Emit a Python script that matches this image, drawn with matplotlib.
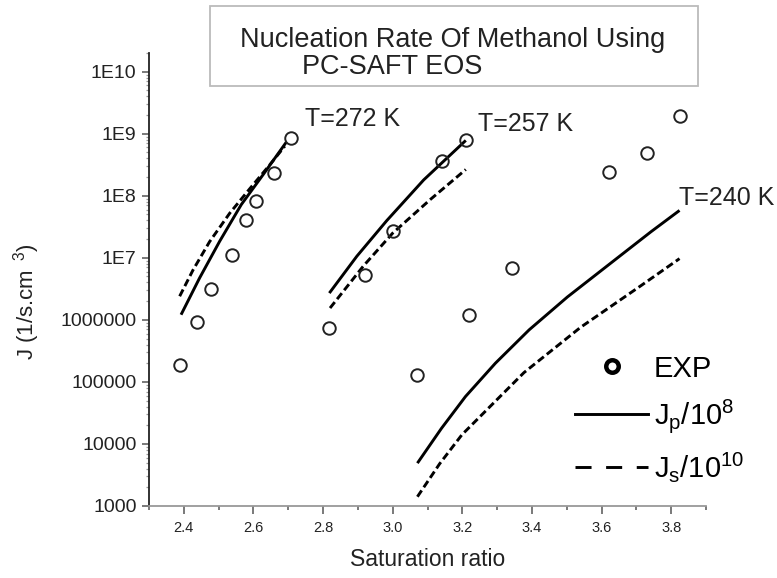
import matplotlib
matplotlib.use("Agg")
import matplotlib.pyplot as plt
from matplotlib.lines import Line2D
from matplotlib.patches import Rectangle
from matplotlib.ticker import FixedLocator, LogLocator, NullFormatter

plt.rcParams['font.family'] = ['Liberation Sans', 'DejaVu Sans']
plt.rcParams['mathtext.fontset'] = 'custom'
plt.rcParams['mathtext.rm'] = 'Liberation Sans'
plt.rcParams['mathtext.it'] = 'Liberation Sans'

# experimental points (saturation ratio, J)
exp_s = [2.388, 2.439, 2.477, 2.538, 2.579, 2.607, 2.659, 2.709,
         2.818, 2.920, 3.000, 3.142, 3.210,
         3.071, 3.220, 3.342, 3.622, 3.731, 3.824]
exp_j = [1.9e5, 9.4e5, 3.1e6, 1.1e7, 4.0e7, 8.2e7, 2.3e8, 8.6e8,
         7.5e5, 5.3e6, 2.7e7, 3.7e8, 7.8e8,
         1.3e5, 1.2e6, 6.9e6, 2.4e8, 4.8e8, 1.9e9]

# T = 272 K
s272_p = [2.392, 2.445, 2.503, 2.565, 2.628, 2.695]
j272_p = [1.21e6, 4.7e6, 1.85e7, 7.2e7, 2.2e8, 7.4e8]
s272_s = [2.388, 2.426, 2.474, 2.532, 2.589, 2.647, 2.690]
j272_s = [2.4e6, 6.3e6, 1.82e7, 5.25e7, 1.29e8, 3.16e8, 6.3e8]

# T = 257 K
s257_p = [2.818, 2.897, 2.983, 3.089, 3.210]
j257_p = [2.7e6, 1.06e7, 3.98e7, 1.8e8, 7.8e8]
s257_s = [2.820, 2.916, 3.000, 3.108, 3.210]
j257_s = [1.55e6, 7.4e6, 2.5e7, 8.7e7, 2.65e8]

# T = 240 K
s240_p = [3.071, 3.140, 3.209, 3.295, 3.392, 3.502, 3.646, 3.742, 3.824]
j240_p = [4.9e3, 1.78e4, 5.8e4, 2.0e5, 6.9e5, 2.34e6, 1.0e7, 2.63e7, 5.8e7]
s240_s = [3.071, 3.135, 3.199, 3.377, 3.540, 3.713, 3.824]
j240_s = [1.41e3, 4.8e3, 1.41e4, 1.41e5, 7.6e5, 3.55e6, 9.7e6]

ytick_vals = [1e3, 1e4, 1e5, 1e6, 1e7, 1e8, 1e9, 1e10]
ytick_labels = ['1000', '10000', '100000', '1000000', '1E7', '1E8', '1E9', '1E10']
xtick_vals = [2.4, 2.6, 2.8, 3.0, 3.2, 3.4, 3.6, 3.8]
xminor_vals = [2.3, 2.5, 2.7, 2.9, 3.1, 3.3, 3.5, 3.7, 3.9]

fig = plt.figure(figsize=(7.77, 5.78), dpi=100)
ax = fig.add_axes([0.1918, 0.1246, 0.7168, 0.7837])

lw = 2.1
dash = (2.6, 1.3)
for s, j in [(s272_p, j272_p), (s257_p, j257_p), (s240_p, j240_p)]:
    ax.plot(s, j, color='black', lw=lw, solid_capstyle='butt')
for s, j in [(s272_s, j272_s), (s257_s, j257_s), (s240_s, j240_s)]:
    ax.plot(s, j, color='black', lw=lw, dashes=dash)
ax.plot(exp_s, exp_j, ls='none', marker='o', ms=9, mfc='none', mec='#222222', mew=1.4)

ax.set_yscale('log')
ax.set_xlim(2.3, 3.9)
ax.set_ylim(1e3, 2e10)
ax.set_yticks(ytick_vals)
ax.set_yticklabels(ytick_labels)
ax.yaxis.set_minor_locator(LogLocator(base=10, subs=range(2, 10), numticks=20))
ax.yaxis.set_minor_formatter(NullFormatter())
ax.set_xticks(xtick_vals)
ax.set_xticklabels(['%.1f' % v for v in xtick_vals])
ax.xaxis.set_minor_locator(FixedLocator(xminor_vals))

for side in ['top', 'right']:
    ax.spines[side].set_visible(False)
ax.spines['left'].set_color('#222222')
ax.spines['left'].set_linewidth(1.3)
ax.spines['bottom'].set_color('#999999')
ax.spines['bottom'].set_linewidth(1.3)

ax.tick_params(axis='y', which='major', length=5, width=1.1, color='#555555', labelsize=14, pad=4, labelcolor='#222222')
ax.tick_params(axis='y', which='minor', length=2.5, width=0.9, color='#999999')
ax.tick_params(axis='x', which='major', length=6, width=1.1, color='#555555', labelsize=10.5, pad=5, labelcolor='#222222')
ax.tick_params(axis='x', which='minor', length=3, width=1.1, color='#555555')

ax.set_xlabel('Saturation ratio', fontsize=16.5, color='#222222', labelpad=9)
ax.set_ylabel(r'J (1/s.cm$^{\ \ 3}$)', fontsize=16, color='#222222')
ax.yaxis.set_label_coords(-0.193, 0.45)

ax.text(2.748, 1.7e9, 'T=272 K', fontsize=18, va='center', color='#222222')
ax.text(3.246, 1.41e9, 'T=257 K', fontsize=18, va='center', color='#222222')
ax.text(3.823, 9.3e7, 'T=240 K', fontsize=18, va='center', color='#222222')

handles = [
    Line2D([], [], ls='none', marker='o', ms=9, mfc='none', mec='black', mew=3.2),
    Line2D([], [], color='black', lw=lw),
    Line2D([], [], color='black', lw=lw, dashes=(5.5, 5.0)),
]
labels = ['EXP', r'J$_{\rm p}$/10$^{\rm 8}$', r'J$_{\rm s}$/10$^{\rm 10}$']
ax.legend(handles, labels, loc='upper left', bbox_to_anchor=(0.765, 0.334),
          frameon=False, fontsize=21, handlelength=2.5, handletextpad=0.2,
          borderpad=0, borderaxespad=0, labelspacing=0.5)

# title box
fig.add_artist(Rectangle((0.2703, 0.8512), 0.628, 0.1384, transform=fig.transFigure,
                         fill=False, edgecolor='#bbbbbb', lw=1.3))
fig.text(0.583, 0.9308, 'Nucleation Rate Of Methanol Using', fontsize=19.5,
         ha='center', va='center', color='#222222')
fig.text(0.5045, 0.884, 'PC-SAFT EOS', fontsize=19.5, ha='center', va='center', color='#222222')

fig.savefig('out.png', dpi=100)
